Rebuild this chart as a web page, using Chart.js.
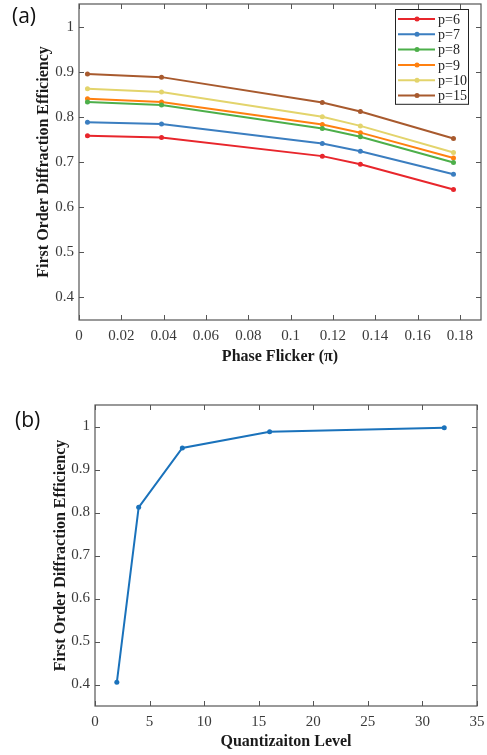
<!DOCTYPE html>
<html>
<head>
<meta charset="utf-8">
<script src="https://cdn.jsdelivr.net/npm/chart.js"></script>
<style>
  body { margin: 0; background: #fff; }
  .panel { position: absolute; left: 0; width: 487px; }
  .tag { position: absolute; font-family: "Open Sans", sans-serif; font-size: 21px; color: #111; line-height: 1; }
</style>
</head>
<body>
<div class="panel" style="top:0;height:370px"><canvas id="chartA" width="487" height="370"></canvas></div>
<div class="tag" style="left:12px;top:5px">(a)</div>
<div class="panel" style="top:370px;height:385px"><canvas id="chartB" width="487" height="385"></canvas></div>
<div class="tag" style="left:15px;top:409px">(b)</div>
<script>
// (a) efficiency vs phase flicker, one line per p
const flicker = [0.004, 0.039, 0.115, 0.133, 0.177];
const p6  = [0.758, 0.754, 0.713, 0.695, 0.639];
const p7  = [0.788, 0.784, 0.741, 0.724, 0.673];
const p8  = [0.833, 0.826, 0.774, 0.756, 0.699];
const p9  = [0.840, 0.833, 0.783, 0.765, 0.709];
const p10 = [0.862, 0.855, 0.800, 0.780, 0.721];
const p15 = [0.895, 0.888, 0.832, 0.812, 0.752];
const seriesNames = ['p=6', 'p=7', 'p=8', 'p=9', 'p=10', 'p=15'];
const seriesColors = ['#e8262c', '#3b7ec0', '#4daf4a', '#ff8010', '#e3d46c', '#a85a2e'];

// (b) efficiency vs quantization level
const levels = [2, 4, 8, 16, 32];
const efficiency = [0.405, 0.812, 0.950, 0.988, 0.997];

const flickerTicks = [0, 0.02, 0.04, 0.06, 0.08, 0.1, 0.12, 0.14, 0.16, 0.18];
const levelTicks = [0, 5, 10, 15, 20, 25, 30, 35];
const effTicks = [0.4, 0.5, 0.6, 0.7, 0.8, 0.9, 1];

const serif = '"Liberation Serif", "Times New Roman", serif';
const tickFont = { family: serif, size: 15 };
const titleFont = { family: serif, size: 16, weight: 'bold' };
const fmt = v => String(+v.toFixed(3));

// matlab-like box with inward ticks on all four sides
const frameTicks = {
  id: 'frameTicks',
  afterDatasetsDraw(chart) {
    const { ctx, chartArea: a, scales: { x, y } } = chart;
    const len = 5;
    ctx.save();
    ctx.strokeStyle = '#555';
    ctx.lineWidth = 1;
    ctx.beginPath();
    x.ticks.forEach(t => {
      const px = Math.round(x.getPixelForValue(t.value)) + 0.5;
      ctx.moveTo(px, a.bottom); ctx.lineTo(px, a.bottom - len);
      ctx.moveTo(px, a.top); ctx.lineTo(px, a.top + len);
    });
    y.ticks.forEach(t => {
      const py = Math.round(y.getPixelForValue(t.value)) + 0.5;
      ctx.moveTo(a.left, py); ctx.lineTo(a.left + len, py);
      ctx.moveTo(a.right, py); ctx.lineTo(a.right - len, py);
    });
    ctx.stroke();
    ctx.lineWidth = 1.2;
    ctx.strokeRect(a.left, a.top, a.right - a.left, a.bottom - a.top);
    ctx.restore();
  }
};

// boxed legend in the upper right corner of the plot
const boxLegend = {
  id: 'boxLegend',
  afterDraw(chart) {
    const { ctx, chartArea: a } = chart;
    const sets = chart.data.datasets;
    const w = 73, rowH = 15.3;
    const left = a.right - 13 - w, top = a.top + 5;
    ctx.save();
    ctx.fillStyle = '#fff';
    ctx.fillRect(left, top, w, rowH * sets.length + 3);
    ctx.strokeStyle = '#222';
    ctx.lineWidth = 1;
    ctx.strokeRect(left + 0.5, top + 0.5, w, rowH * sets.length + 3);
    ctx.font = '14px ' + serif;
    ctx.textBaseline = 'middle';
    sets.forEach((ds, i) => {
      const cy = top + 10 + i * rowH;
      ctx.strokeStyle = ds.borderColor;
      ctx.lineWidth = 2;
      ctx.beginPath();
      ctx.moveTo(left + 3, cy); ctx.lineTo(left + 40, cy);
      ctx.stroke();
      ctx.fillStyle = ds.borderColor;
      ctx.beginPath();
      ctx.arc(left + 22, cy, 2.5, 0, Math.PI * 2);
      ctx.fill();
      ctx.fillStyle = '#222';
      ctx.fillText(ds.label, left + 43, cy + 1);
    });
    ctx.restore();
  }
};

function axes(xTicks, xMax, yTitle, xTitle, yWidth, xHeight) {
  return {
    x: {
      type: 'linear', min: 0, max: xMax,
      afterBuildTicks: s => { s.ticks = xTicks.map(v => ({ value: v })); },
      afterFit: s => { s.height = xHeight; s.paddingLeft = 0; s.paddingRight = 0; },
      grid: { display: false, drawTicks: false, tickLength: 0 }, border: { display: false },
      ticks: { padding: 7, font: tickFont, color: '#3a3a3a', callback: fmt, maxRotation: 0, autoSkip: false },
      title: { display: true, text: xTitle, font: titleFont, color: '#1a1a1a', padding: { top: 0, bottom: 4 } }
    },
    y: {
      type: 'linear', min: 0.35, max: 1.05,
      afterBuildTicks: s => { s.ticks = effTicks.map(v => ({ value: v })); },
      afterFit: s => { s.width = yWidth; s.paddingTop = 0; s.paddingBottom = 0; },
      grid: { display: false, drawTicks: false, tickLength: 0 }, border: { display: false },
      ticks: { padding: 5, font: tickFont, color: '#3a3a3a', callback: fmt, autoSkip: false },
      title: { display: true, text: yTitle, font: titleFont, color: '#1a1a1a', padding: 0 }
    }
  };
}

const yTitle = 'First Order Diffraction Efficiency';
const pSeries = [p6, p7, p8, p9, p10, p15];

new Chart(document.getElementById('chartA'), {
  type: 'line',
  data: {
    datasets: pSeries.map((vals, i) => ({
      label: seriesNames[i],
      data: vals.map((v, j) => ({ x: flicker[j], y: v })),
      borderColor: seriesColors[i],
      backgroundColor: seriesColors[i],
      borderWidth: 2,
      pointRadius: 2.5,
      pointBorderWidth: 0,
      tension: 0
    }))
  },
  options: {
    responsive: false, animation: false,
    layout: { padding: { top: 4, right: 6, left: 34, bottom: 0 } },
    plugins: { legend: { display: false }, tooltip: { enabled: false } },
    scales: axes(flickerTicks, 0.19, yTitle, 'Phase Flicker (\u03c0)', 45, 50)
  },
  plugins: [frameTicks, boxLegend]
});

new Chart(document.getElementById('chartB'), {
  type: 'line',
  data: {
    datasets: [{
      label: 'efficiency',
      data: levels.map((l, i) => ({ x: l, y: efficiency[i] })),
      borderColor: '#1a72bb',
      backgroundColor: '#1a72bb',
      borderWidth: 2,
      pointRadius: 2.5,
      pointBorderWidth: 0,
      tension: 0
    }]
  },
  options: {
    responsive: false, animation: false,
    layout: { padding: { top: 35, right: 10, left: 51, bottom: 0 } },
    plugins: { legend: { display: false }, tooltip: { enabled: false } },
    scales: axes(levelTicks, 35, yTitle, 'Quantizaiton Level', 44, 49)
  },
  plugins: [frameTicks]
});
</script>
</body>
</html>
